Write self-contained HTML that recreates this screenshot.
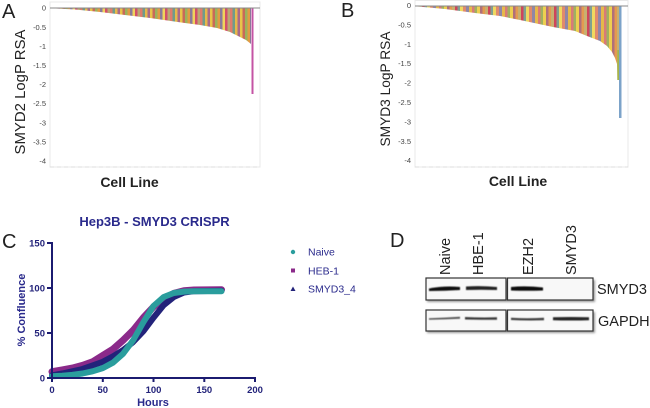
<!DOCTYPE html>
<html><head><meta charset="utf-8"><style>
html,body{margin:0;padding:0;background:#fff;}
body{width:650px;height:408px;overflow:hidden;}
svg{display:block;font-family:"Liberation Sans",Arial,sans-serif;}
</style></head><body>
<svg width="650" height="408" viewBox="0 0 650 408" xmlns="http://www.w3.org/2000/svg">
<defs>
<pattern id="pa" patternUnits="userSpaceOnUse" width="30" height="200">
<rect x="0" y="0" width="2.5" height="200" fill="#e8c44a"/>
<rect x="2.5" y="0" width="2.5" height="200" fill="#c76a5a"/>
<rect x="5" y="0" width="2.5" height="200" fill="#9ab35c"/>
<rect x="7.5" y="0" width="2.5" height="200" fill="#e39a44"/>
<rect x="10" y="0" width="2.5" height="200" fill="#8a7a9a"/>
<rect x="12.5" y="0" width="2.5" height="200" fill="#f0d25c"/>
<rect x="15" y="0" width="2.5" height="200" fill="#d2506a"/>
<rect x="17.5" y="0" width="2.5" height="200" fill="#b9a872"/>
<rect x="20" y="0" width="2.5" height="200" fill="#e07d6b"/>
<rect x="22.5" y="0" width="2.5" height="200" fill="#6f9c8a"/>
<rect x="25" y="0" width="2.5" height="200" fill="#e6b84a"/>
<rect x="27.5" y="0" width="2.5" height="200" fill="#a86a8a"/>
</pattern>
<pattern id="pb" patternUnits="userSpaceOnUse" width="33" height="200" patternTransform="translate(7,0)">
<rect x="0" y="0" width="3" height="200" fill="#e6b84a"/>
<rect x="3" y="0" width="2.5" height="200" fill="#d97a78"/>
<rect x="5.5" y="0" width="2.5" height="200" fill="#a0b060"/>
<rect x="8" y="0" width="3" height="200" fill="#eecf50"/>
<rect x="11" y="0" width="2.5" height="200" fill="#b0707a"/>
<rect x="13.5" y="0" width="2.5" height="200" fill="#e49a50"/>
<rect x="16" y="0" width="3" height="200" fill="#c8b070"/>
<rect x="19" y="0" width="2.5" height="200" fill="#d0455a"/>
<rect x="21.5" y="0" width="2.5" height="200" fill="#7fa090"/>
<rect x="24" y="0" width="3" height="200" fill="#f0d860"/>
<rect x="27" y="0" width="3" height="200" fill="#e08a6c"/>
<rect x="30" y="0" width="3" height="200" fill="#8f86a6"/>
</pattern>
<filter id="bl" x="-20%" y="-100%" width="140%" height="300%"><feGaussianBlur stdDeviation="0.6"/></filter>
<filter id="sh" x="-10%" y="-30%" width="120%" height="160%"><feGaussianBlur stdDeviation="1"/></filter>
</defs>

<!-- Panel A -->
<text x="2" y="18" font-size="20" fill="#222">A</text>
<rect x="50" y="2" width="210" height="165" fill="none" stroke="#e8e8e8" stroke-width="1"/>
<line x1="50" y1="167" x2="260" y2="167" stroke="#ddd" stroke-dasharray="4,3"/>
<polygon points="51,8 51,8.3 75,9.5 100,12 125,15 150,18 183,22.7 200,25 217,28 230,32 240,37 246,40 251,44 251,8" fill="url(#pa)"/>
<rect x="251.5" y="8" width="2" height="86" fill="#c454a4"/>
<line x1="50" y1="8" x2="260" y2="8" stroke="#888" stroke-width="1"/>
<g font-size="7.5" fill="#444" text-anchor="end">
<text x="46" y="10.7">0</text>
<text x="46" y="29.8">-0.5</text>
<text x="46" y="48.9">-1</text>
<text x="46" y="68">-1.5</text>
<text x="46" y="87.1">-2</text>
<text x="46" y="106.2">-2.5</text>
<text x="46" y="125.3">-3</text>
<text x="46" y="144.4">-3.5</text>
<text x="46" y="163.5">-4</text>
</g>
<text transform="translate(25,92) rotate(-90)" text-anchor="middle" font-size="15" textLength="125" lengthAdjust="spacingAndGlyphs" fill="#222">SMYD2 LogP RSA</text>
<text x="129.5" y="187" text-anchor="middle" font-size="14" font-weight="bold" fill="#222">Cell Line</text>

<!-- Panel B -->
<text x="341" y="17" font-size="20" fill="#222">B</text>
<rect x="415" y="0.5" width="213" height="166.5" fill="none" stroke="#e8e8e8" stroke-width="1"/>
<line x1="415" y1="167" x2="628" y2="167" stroke="#ddd" stroke-dasharray="4,3"/>
<polygon points="415,6 415,6.3 445,9 475,13 500,16 520,20 553,27 575,31 587,36 600,41 607,46 612,52 615,58 617,64 617.5,80 619,80 619,6" fill="url(#pb)"/>
<rect x="617.3" y="50" width="1.7" height="30" fill="#a6b44a"/>
<rect x="619" y="6" width="2.5" height="112" fill="#7ca3c9"/>
<line x1="415" y1="6" x2="628" y2="6" stroke="#888" stroke-width="1"/>
<g font-size="7.5" fill="#444" text-anchor="end">
<text x="411" y="8">0</text>
<text x="411" y="27.4">-0.5</text>
<text x="411" y="46.8">-1</text>
<text x="411" y="66.2">-1.5</text>
<text x="411" y="85.6">-2</text>
<text x="411" y="105">-2.5</text>
<text x="411" y="124.4">-3</text>
<text x="411" y="143.8">-3.5</text>
<text x="411" y="163.2">-4</text>
</g>
<text transform="translate(390,89) rotate(-90)" text-anchor="middle" font-size="14" textLength="115" lengthAdjust="spacingAndGlyphs" fill="#222">SMYD3 LogP RSA</text>
<text x="518" y="186" text-anchor="middle" font-size="14" font-weight="bold" fill="#222">Cell Line</text>

<!-- Panel C -->
<text x="2" y="248" font-size="20" fill="#222">C</text>
<text x="154.5" y="226" text-anchor="middle" font-size="13" font-weight="bold" fill="#2a2a8c">Hep3B - SMYD3 CRISPR</text>
<polyline fill="none" stroke="#8b2a8a" stroke-width="7" stroke-linejoin="round" stroke-linecap="round"
 points="52,371.7 62.2,369.9 72.3,368.1 82.5,365.4 92.6,361.8 102.8,355.5 112.9,349.2 123.1,340.2 133.2,330.3 143.4,317.7 153.5,306.9 163.7,298.8 173.8,293.4 184,290.7 194.1,290 221.5,289.8"/>
<polyline fill="none" stroke="#23237a" stroke-width="6" stroke-linejoin="round" stroke-linecap="round"
 points="52,375.3 62.2,373.5 72.3,371.3 82.5,369 92.6,365.4 102.8,361.8 112.9,356.4 123.1,350.1 133.2,342 143.4,331.2 153.5,317.7 163.7,305.1 173.8,297 184,292.5 194.1,291.2 221.5,290.7"/>
<polyline fill="none" stroke="#2a9d9d" stroke-width="6" stroke-linejoin="round" stroke-linecap="round"
 points="52,376.2 62.2,375.8 72.3,374.9 82.5,373.5 92.6,371.3 102.8,368.1 112.9,362.7 123.1,353.7 133.2,340.2 143.4,322.2 153.5,306 163.7,297 173.8,293 184,291.6 194.1,291.2 221.5,291.2"/>
<g stroke="#1b1b70" stroke-width="2" fill="none">
<line x1="52" y1="242" x2="52" y2="379"/>
<line x1="51" y1="378" x2="256" y2="378"/>
<line x1="47" y1="243" x2="52" y2="243"/>
<line x1="47" y1="288" x2="52" y2="288"/>
<line x1="47" y1="333" x2="52" y2="333"/>
<line x1="47" y1="378" x2="52" y2="378"/>
<line x1="52" y1="378" x2="52" y2="382"/>
<line x1="102.8" y1="378" x2="102.8" y2="382"/>
<line x1="153.5" y1="378" x2="153.5" y2="382"/>
<line x1="204.3" y1="378" x2="204.3" y2="382"/>
<line x1="255" y1="378" x2="255" y2="382"/>
</g>
<g font-size="9.5" font-weight="bold" fill="#23237a">
<text x="45" y="246.5" text-anchor="end">150</text>
<text x="45" y="291.5" text-anchor="end">100</text>
<text x="45" y="336.5" text-anchor="end">50</text>
<text x="45" y="381.5" text-anchor="end">0</text>
<text x="52" y="393" text-anchor="middle">0</text>
<text x="102.8" y="393" text-anchor="middle">50</text>
<text x="153.5" y="393" text-anchor="middle">100</text>
<text x="204.3" y="393" text-anchor="middle">150</text>
<text x="255" y="393" text-anchor="middle">200</text>
</g>
<text transform="translate(25,310) rotate(-90)" text-anchor="middle" font-size="11" font-weight="bold" fill="#2a2a8c">% Confluence</text>
<text x="153" y="406" text-anchor="middle" font-size="11" font-weight="bold" fill="#2a2a8c">Hours</text>
<!-- legend -->
<circle cx="293" cy="252" r="2.2" fill="#2a9d9d"/>
<rect x="291" y="268.5" width="4" height="4" fill="#8b2a8a"/>
<polygon points="293,286.5 295.5,291 290.5,291" fill="#23237a"/>
<g font-size="10.5" fill="#2a2a8c">
<text x="308" y="255.5">Naive</text>
<text x="308" y="274.5">HEB-1</text>
<text x="308" y="292.5">SMYD3_4</text>
</g>

<!-- Panel D -->
<text x="390" y="247" font-size="20" fill="#222">D</text>
<g font-size="14.5" fill="#222">
<text transform="translate(450,275) rotate(-90)">Naive</text>
<text transform="translate(483,275) rotate(-90)">HBE-1</text>
<text transform="translate(533,275) rotate(-90)">EZH2</text>
<text transform="translate(576,275) rotate(-90)">SMYD3</text>
</g>
<!-- shadows -->
<rect x="427" y="280" width="168" height="22" fill="#999" filter="url(#sh)"/>
<rect x="427" y="312" width="168" height="21" fill="#999" filter="url(#sh)"/>
<!-- boxes -->
<rect x="426" y="278" width="80" height="22" fill="#f8f8f8" stroke="#333" stroke-width="1.2"/>
<rect x="507.5" y="278" width="85.5" height="22" fill="#f8f8f8" stroke="#333" stroke-width="1.2"/>
<rect x="426" y="310" width="80" height="21" fill="#f8f8f8" stroke="#333" stroke-width="1.2"/>
<rect x="507.5" y="310" width="85.5" height="21" fill="#f8f8f8" stroke="#333" stroke-width="1.2"/>
<!-- SMYD3 bands -->
<g filter="url(#bl)">
<path d="M429,288.5 Q444,285.5 460,287 L460,290 Q444,291 429,291 Z" fill="#111"/>
<path d="M466,286.5 Q481,285.5 497,287 L497,290 Q481,289.5 466,290 Z" fill="#222"/>
<path d="M511,287 Q526,285.5 543,287.5 L543,290.5 Q526,291 511,290.5 Z" fill="#111"/>
<!-- GAPDH bands -->
<path d="M429,318.3 Q444,317.8 460,316.8 L460,318.8 Q444,319.5 429,319.8 Z" fill="#555"/>
<path d="M465,317 Q481,317.8 497,317.3 L497,319.8 Q481,319.8 465,319.5 Z" fill="#3a3a3a"/>
<path d="M511,317.8 Q527,318.8 544,317.8 L544,320.3 Q527,320.8 511,320 Z" fill="#404040"/>
<path d="M553,317.2 Q571,316.7 589,317.2 L589,320.3 Q571,320.8 553,320.3 Z" fill="#262626"/>
</g>
<g font-size="14.5" fill="#222">
<text x="597" y="294">SMYD3</text>
<text x="598" y="326">GAPDH</text>
</g>
</svg>
</body></html>
